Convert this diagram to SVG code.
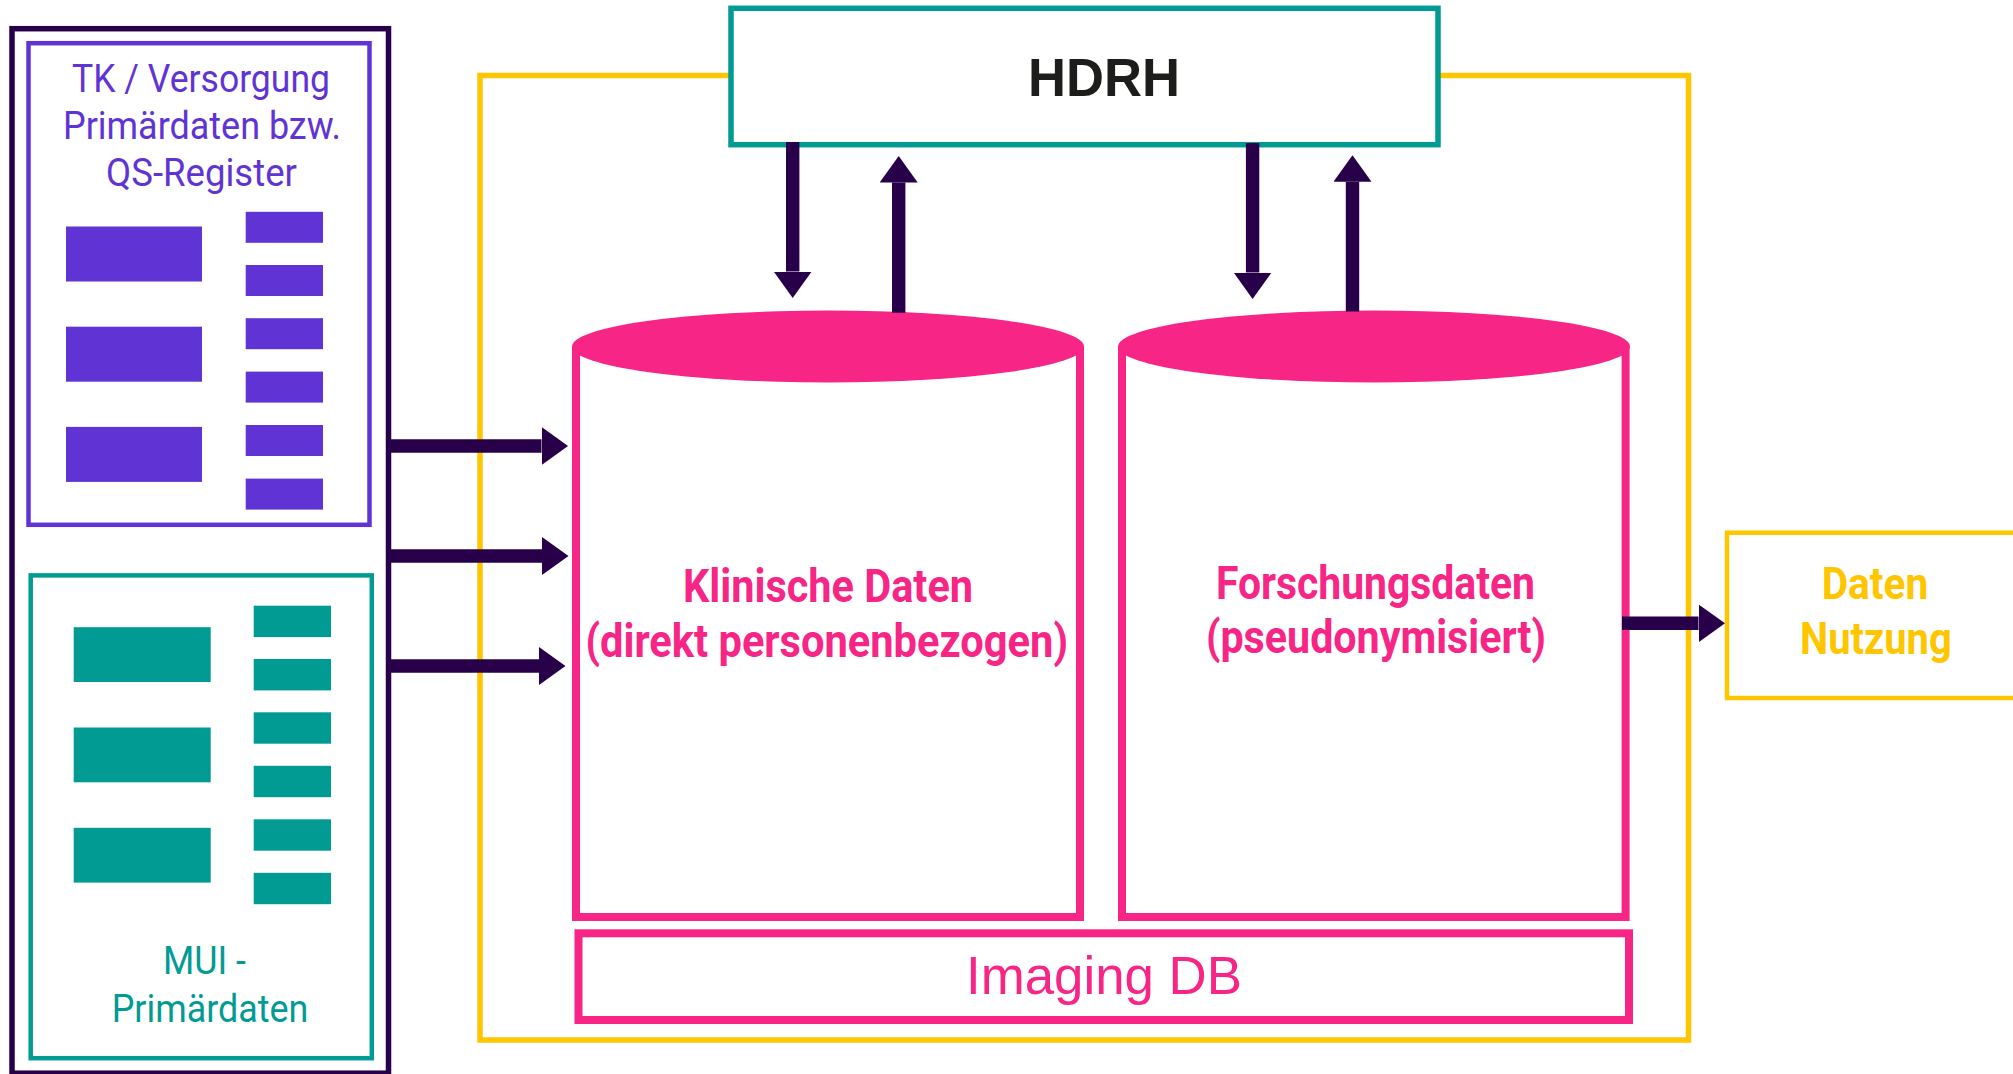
<svg xmlns="http://www.w3.org/2000/svg" width="2013" height="1074" viewBox="0 0 2013 1074">
  <defs>
    <style>
      .bg { fill: #ffffff; }
      .dark-frame { fill: none; stroke: #28004A; stroke-width: 5.5; }
      .violet-frame { fill: none; stroke: #6034D4; stroke-width: 4.5; }
      .violet-fill { fill: #6034D4; }
      .teal-frame { fill: none; stroke: #029B94; stroke-width: 4.5; }
      .teal-fill { fill: #029B94; }
      .hub-frame { fill: #ffffff; stroke: #029B94; stroke-width: 5.5; }
      .gold-frame { fill: none; stroke: #FFC600; stroke-width: 5.5; }
      .gold-box { fill: #ffffff; stroke: #FFC600; stroke-width: 4.5; }
      .db-body { fill: #ffffff; stroke: #F72585; stroke-width: 8; stroke-linejoin: miter; }
      .db-lid { fill: #F72585; }
      .db-frame { fill: #ffffff; stroke: #F72585; stroke-width: 8; }
      .flow { stroke: #28004A; stroke-width: 13.4; fill: none; }
      .label-source { font-family: Roboto, "Noto Sans", sans-serif; font-size: 38px; font-weight: 400; }
      .label-db { font-family: Roboto, "Noto Sans", sans-serif; font-size: 46px; font-weight: 700; fill: #F72585; }
      .label-use { font-family: Roboto, "Noto Sans", sans-serif; font-size: 44px; font-weight: 700; fill: #FFC600; }
      .label-hub { font-family: "Liberation Sans", Arial, sans-serif; font-size: 54px; font-weight: 700; fill: #1D1D1B; }
      .label-img { font-family: "Liberation Sans", Arial, sans-serif; font-size: 54px; font-weight: 400; fill: #F72585; }
    </style>
    <marker id="head" markerUnits="userSpaceOnUse" markerWidth="27" markerHeight="38" refX="0" refY="19" orient="auto">
      <path d="M0,0 L26.5,19 L0,38 Z" fill="#28004A"/>
    </marker>
  </defs>

  <rect class="bg" x="0" y="0" width="2013" height="1074"/>

  <!-- platform frame -->
  <g id="platform">
    <rect class="gold-frame" x="480" y="75.5" width="1208.5" height="964.5"/>
  </g>

  <!-- HDRH hub -->
  <g id="hdrh">
    <rect class="hub-frame" x="731" y="8.3" width="707" height="136.4"/>
    <text class="label-hub" x="1028" y="96" textLength="152" lengthAdjust="spacingAndGlyphs">HDRH</text>
  </g>

  <!-- source systems -->
  <g id="sources">
    <rect class="dark-frame" x="12" y="28.7" width="376.5" height="1044.5"/>
  </g>

  <g id="tk-source">
    <rect class="violet-frame" x="28.5" y="43.2" width="341" height="481.6"/>
    <text class="label-source" fill="#6034D4" x="72" y="91.8" textLength="258" lengthAdjust="spacingAndGlyphs">TK / Versorgung</text>
    <text class="label-source" fill="#6034D4" x="63" y="138.6" textLength="278" lengthAdjust="spacingAndGlyphs">Primärdaten bzw.</text>
    <text class="label-source" fill="#6034D4" x="106" y="186.4" textLength="191" lengthAdjust="spacingAndGlyphs">QS-Register</text>
    <rect class="violet-fill" x="66" y="226.5" width="136" height="55"/>
    <rect class="violet-fill" x="66" y="326.7" width="136" height="55"/>
    <rect class="violet-fill" x="66" y="426.9" width="136" height="55"/>
    <rect class="violet-fill" x="245.7" y="211.8" width="77.3" height="31"/>
    <rect class="violet-fill" x="245.7" y="265" width="77.3" height="31"/>
    <rect class="violet-fill" x="245.7" y="318.2" width="77.3" height="31"/>
    <rect class="violet-fill" x="245.7" y="371.6" width="77.3" height="31"/>
    <rect class="violet-fill" x="245.7" y="425" width="77.3" height="31"/>
    <rect class="violet-fill" x="245.7" y="478.6" width="77.3" height="31"/>
  </g>

  <g id="mui-source">
    <rect class="teal-frame" x="30.7" y="575.4" width="341.1" height="482.8"/>
    <rect class="teal-fill" x="73.7" y="627.2" width="137" height="54.8"/>
    <rect class="teal-fill" x="73.7" y="727.5" width="137" height="54.8"/>
    <rect class="teal-fill" x="73.7" y="827.8" width="137" height="54.8"/>
    <rect class="teal-fill" x="253.7" y="605.7" width="77.3" height="31.4"/>
    <rect class="teal-fill" x="253.7" y="659" width="77.3" height="31.4"/>
    <rect class="teal-fill" x="253.7" y="712.3" width="77.3" height="31.4"/>
    <rect class="teal-fill" x="253.7" y="765.8" width="77.3" height="31.4"/>
    <rect class="teal-fill" x="253.7" y="819.3" width="77.3" height="31.4"/>
    <rect class="teal-fill" x="253.7" y="872.8" width="77.3" height="31.4"/>
    <text class="label-source" fill="#029B94" x="163" y="974.3" textLength="83" lengthAdjust="spacingAndGlyphs">MUI -</text>
    <text class="label-source" fill="#029B94" x="111.7" y="1022" textLength="196.6" lengthAdjust="spacingAndGlyphs">Primärdaten</text>
  </g>

  <!-- clinical database -->
  <g id="klinische-daten">
    <path class="db-body" d="M576,346.5 V917 H1080 V346.5"/>
    <ellipse class="db-lid" cx="828" cy="346.5" rx="256" ry="36"/>
    <text class="label-db" x="683" y="601.7" textLength="290" lengthAdjust="spacingAndGlyphs">Klinische Daten</text>
    <text class="label-db" x="585.5" y="657" textLength="482.5" lengthAdjust="spacingAndGlyphs">(direkt personenbezogen)</text>
  </g>

  <!-- research database -->
  <g id="forschungsdaten">
    <path class="db-body" d="M1122,346.5 V917 H1625.6 V346.5"/>
    <ellipse class="db-lid" cx="1374" cy="346.5" rx="256" ry="36"/>
    <text class="label-db" x="1216" y="598.5" textLength="319" lengthAdjust="spacingAndGlyphs">Forschungsdaten</text>
    <text class="label-db" x="1206" y="653" textLength="340" lengthAdjust="spacingAndGlyphs">(pseudonymisiert)</text>
  </g>

  <!-- imaging store -->
  <g id="imaging-db">
    <rect class="db-frame" x="578.5" y="933.3" width="1050.5" height="86.7"/>
    <text class="label-img" x="966" y="994.3" textLength="276" lengthAdjust="spacingAndGlyphs">Imaging DB</text>
  </g>

  <!-- data use -->
  <g id="daten-nutzung">
    <rect class="gold-box" x="1727" y="532.7" width="300" height="165.3"/>
    <text class="label-use" x="1821.7" y="599.3" textLength="106.6" lengthAdjust="spacingAndGlyphs">Daten</text>
    <text class="label-use" x="1800" y="654" textLength="151.7" lengthAdjust="spacingAndGlyphs">Nutzung</text>
  </g>

  <!-- connectors -->
  <g id="connectors">
    <line class="flow" x1="792.7" y1="142" x2="792.7" y2="271.5" marker-end="url(#head)"/>
    <line class="flow" x1="898.7" y1="312.7" x2="898.7" y2="182.5" marker-end="url(#head)"/>
    <line class="flow" x1="1252.6" y1="143" x2="1252.6" y2="272.5" marker-end="url(#head)"/>
    <line class="flow" x1="1352.5" y1="311.5" x2="1352.5" y2="181.8" marker-end="url(#head)"/>
    <line class="flow" x1="386" y1="446" x2="541.5" y2="446" marker-end="url(#head)"/>
    <line class="flow" x1="386" y1="556" x2="542" y2="556" marker-end="url(#head)"/>
    <line class="flow" x1="386" y1="666" x2="539" y2="666" marker-end="url(#head)"/>
    <line class="flow" x1="1622" y1="623.3" x2="1698.5" y2="623.3" marker-end="url(#head)"/>
  </g>
</svg>
